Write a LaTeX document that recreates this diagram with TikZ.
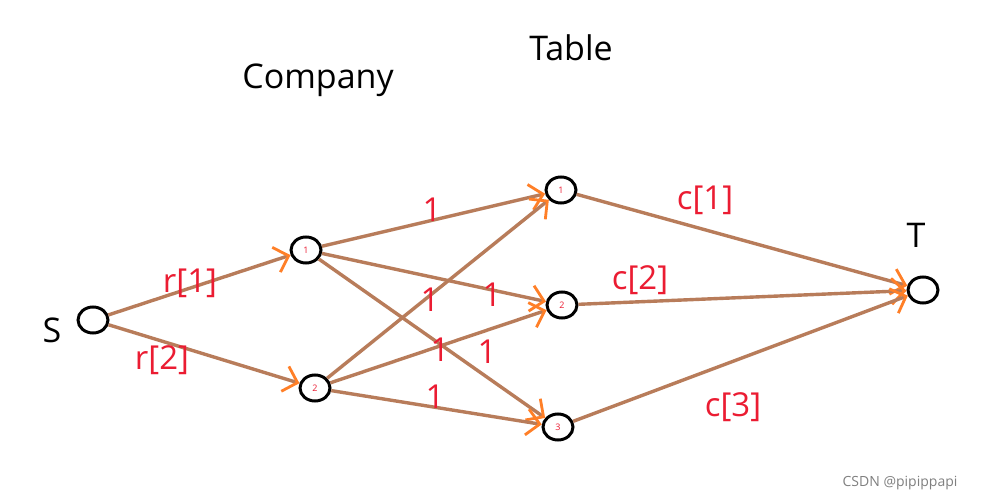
\documentclass[tikz,border=0pt]{standalone}
\usepackage{fontspec}
\setmainfont{Open Sans}
\usetikzlibrary{arrows.meta,shapes.geometric}
\definecolor{lred}{RGB}{235,28,50}
\begin{document}
\begin{tikzpicture}[x=1pt,y=-1pt,
  v/.style={draw=black,line width=3pt,ellipse,minimum width=30pt,minimum height=26pt,inner sep=0pt,font=\fontsize{9}{9}\selectfont,text=lred},
  e/.style={draw={rgb,255:red,184;green,124;blue,90},line width=3.4pt,-{Straight Barb[color={rgb,255:red,255;green,127;blue,39},length=13pt,width=26pt,line width=2.8pt]}},
  lab/.style={text=lred,font=\fontsize{33}{33}\selectfont},
  big/.style={font=\fontsize{34}{34}\selectfont}]
\useasboundingbox (0,0) rectangle (990,503);
\fill[white] (0,0) rectangle (990,503);
\node[v] (s) at (93,320) {};
\node[v] (c1) at (306,250) {1};
\node[v] (c2) at (315,388) {2};
\node[v] (t1) at (561,190) {1};
\node[v] (t2) at (562,305) {2};
\node[v] (t3) at (558,427) {3};
\node[v] (t) at (923,290) {};
\node[big] (lc) at (318,80) {Company};
\node[big] (lt) at (571,48) {Table};
\node[big] (ls) at (52,330) {S};
\node[big] (ltt) at (916,235) {T};
\draw[e] (s) -- (c1);
\draw[e] (s) -- (c2);
\draw[e] (c1) -- (t1);
\draw[e] (c1) -- (t2);
\draw[e] (c1) -- (t3);
\draw[e] (c2) -- (t1);
\draw[e] (c2) -- (t2);
\draw[e] (c2) -- (t3);
\draw[e] (t1) -- (t);
\draw[e] (t2) -- (t);
\draw[e] (t3) -- (t);
\node[lab] (l1) at (190,283) {r[1]};
\node[lab] (l2) at (162,360) {r[2]};
\node[lab] (l3) at (432,210) {1};
\node[lab] (l4) at (492,295) {1};
\node[lab] (l5) at (430,300) {1};
\node[lab] (l6) at (440,350) {1};
\node[lab] (l7) at (487,352) {1};
\node[lab] (l8) at (435,397) {1};
\node[lab] (l9) at (705,200) {c[1]};
\node[lab] (l10) at (640,280) {c[2]};
\node[lab] (l11) at (733,407) {c[3]};
\node[text=gray,font=\fontsize{14}{14}\selectfont] (w) at (900,483) {CSDN @pipippapi};
\end{tikzpicture}
\end{document}
